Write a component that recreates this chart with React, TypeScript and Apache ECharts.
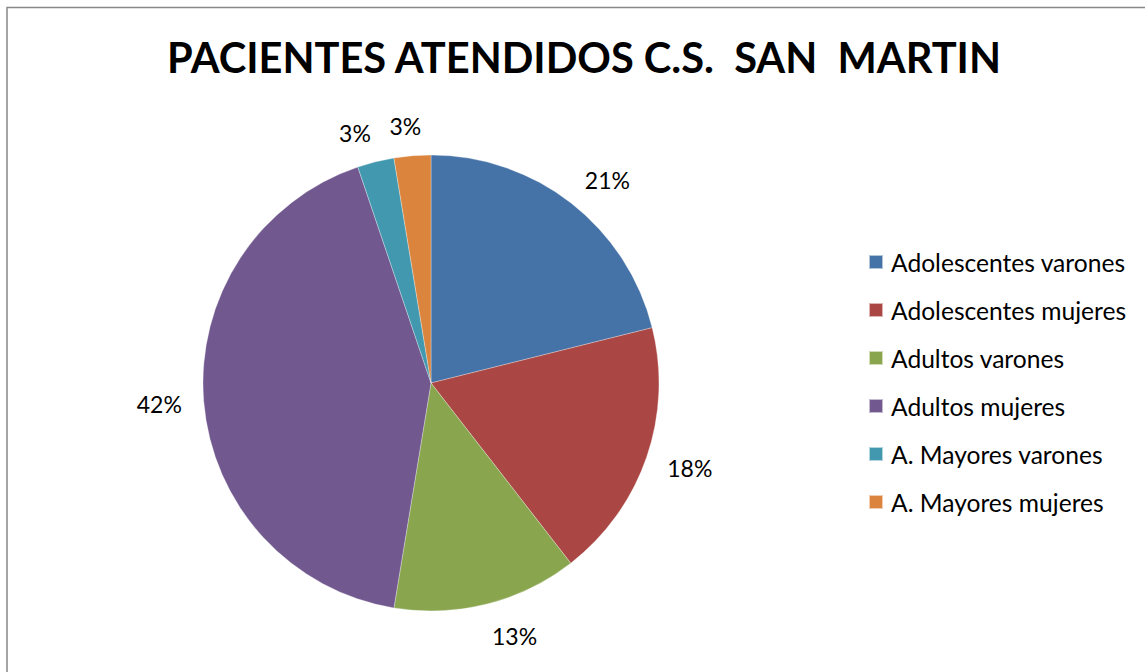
import React, { useEffect, useRef } from "react";
import * as echarts from "echarts";

const titleText = "PACIENTES ATENDIDOS C.S.  SAN  MARTIN";
const categories = [
  "Adolescentes varones",
  "Adolescentes mujeres",
  "Adultos varones",
  "Adultos mujeres",
  "A. Mayores varones",
  "A. Mayores mujeres",
];
const values = [21.1, 18.4, 13.1, 42.2, 2.6, 2.6];
const colors = ["#4572A7", "#AA4643", "#89A54E", "#71588F", "#4198AF", "#DB843D"];

const FONT = "Lato, 'Noto Sans', sans-serif";
const CX = 431;
const CY = 383;
const R = 228;
const GAP = 22;

export default function App() {
  const ref = useRef<HTMLDivElement>(null);
  useEffect(() => {
    if (!ref.current) return;
    const chart = echarts.init(ref.current, undefined, { renderer: "svg" });
    const total = values.reduce((a, b) => a + b, 0);
    const mids: number[] = [];
    let acc = 0;
    values.forEach((v) => {
      mids.push(((acc + v / 2) / total) * Math.PI * 2);
      acc += v;
    });
    chart.setOption({
      animation: false,
      backgroundColor: "#ffffff",
      textStyle: { fontFamily: FONT },
      title: {
        text: titleText,
        left: 167,
        top: 36,
        padding: 0,
        textStyle: { fontFamily: FONT, fontSize: 41.6, fontWeight: "bold", color: "#000" },
      },
      legend: {
        orient: "vertical",
        left: 868,
        top: 249,
        padding: 0,
        icon: "rect",
        itemWidth: 14,
        itemHeight: 14,
        itemGap: 22,
        data: categories,
        textStyle: { fontFamily: FONT, fontSize: 24.6, color: "#000", lineHeight: 26, padding: [0, 0, 0, 3] },
      },
      graphic: [
        {
          type: "rect",
          shape: { x: 7, y: 7.5, width: 1200, height: 700 },
          style: { fill: "none", stroke: "#888888", lineWidth: 1.5 },
          silent: true,
        },
      ],
      series: [
        {
          type: "pie",
          center: [CX, CY],
          radius: R,
          startAngle: 90,
          clockwise: true,
          percentPrecision: 0,
          color: colors,
          itemStyle: { borderColor: "rgba(255,255,255,0.6)", borderWidth: 0.5 },
          label: {
            show: true,
            position: "outside",
            formatter: "{d}%",
            fontFamily: FONT,
            fontSize: 23,
            color: "#000",
          },
          labelLine: { show: false },
          labelLayout: (params: any) => {
            const i = params.dataIndex;
            const a = mids[i];
            const dx = Math.sin(a);
            const dy = -Math.cos(a);
            const w = params.labelRect.width;
            const h = params.labelRect.height;
            const kx = Math.max(-1, Math.min(1, dx * 4));
            const ky = dy < 0 ? dy * 0.7 : dy;
            return {
              x: CX + (R + GAP) * dx + (kx * w) / 2,
              y: CY + (R + GAP) * dy + (ky * h) / 2,
              align: "center",
              verticalAlign: "middle",
            };
          },
          data: categories.map((name, i) => ({ name, value: values[i] })),
        },
      ],
    });
    return () => chart.dispose();
  }, []);
  return (
    <div
      ref={ref}
      style={{ position: "absolute", left: 0, top: 0, width: 1145, height: 672 }}
    />
  );
}
